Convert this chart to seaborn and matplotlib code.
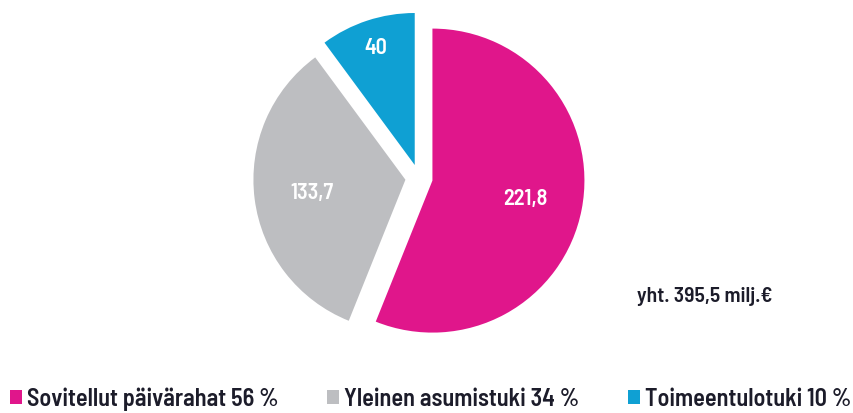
import matplotlib
matplotlib.use('Agg')
import matplotlib.pyplot as plt
import seaborn as sns
import numpy as np
from matplotlib.patches import Patch

# Data
categories = ['Sovitellut päivärahat', 'Yleinen asumistuki', 'Toimeentulotuki']
values = [221.8, 133.7, 40.0]
value_labels = ['221,8', '133,7', '40']
shares = [56, 34, 10]
total_label = 'yht. 395,5 milj.€'

colors = ['#E0168B', '#BDBEC1', '#0FA0D3']
text_dark = '#1c1c2a'

sns.set_theme(style='white')
plt.rcParams['font.family'] = ['Barlow Semi Condensed', 'Noto Sans', 'DejaVu Sans']

fig = plt.figure(figsize=(8.54, 4.14), dpi=100)
ax = fig.add_axes([0, 0, 1, 1])

wedges, _ = ax.pie(values, colors=colors, startangle=90, counterclock=False,
                   explode=[0.09, 0.09, 0.09], radius=1.0,
                   wedgeprops=dict(linewidth=0))

# value labels inside wedges
label_dist = [0.62, 0.62, 0.82]
for w, txt, d in zip(wedges, value_labels, label_dist):
    ang = np.deg2rad((w.theta1 + w.theta2) / 2)
    cx, cy = w.center
    ax.text(cx + d * np.cos(ang), cy + d * np.sin(ang), txt, color='white',
            fontsize=16, fontweight='semibold', ha='center', va='center')

# map axes so pie centre sits at ~(419,179) px with radius ~152 px
scale = 152.0
ax.set_xlim(-419 / scale, (854 - 419) / scale)
ax.set_ylim(-(414 - 179) / scale, 179 / scale)
ax.set_aspect('equal')
ax.axis('off')

fig.text(637 / 854, 1 - 297 / 414, total_label, color=text_dark, fontsize=15.5,
         fontweight='semibold', ha='left', va='center')

handles = [Patch(facecolor=c, edgecolor='none') for c in colors]
labels = [f'{c} {s} %' for c, s in zip(categories, shares)]
fig.legend(handles, labels, loc='lower left', bbox_to_anchor=(0.0, -0.017), ncol=3,
           frameon=False, handlelength=0.5, handleheight=0.5, handletextpad=0.2,
           columnspacing=2.0, borderaxespad=0.0,
           prop=dict(size=17.5, weight='semibold'),
           labelcolor=text_dark)

fig.savefig('out.png', dpi=100)
